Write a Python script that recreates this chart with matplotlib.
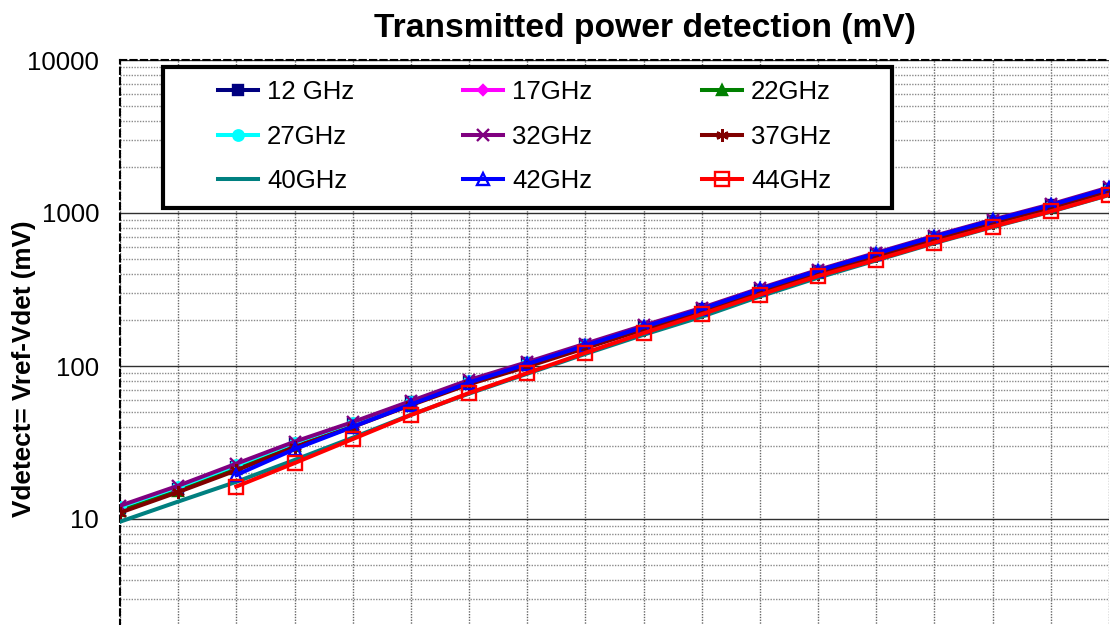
import matplotlib
matplotlib.use("Agg")
import matplotlib.pyplot as plt
from matplotlib.ticker import LogLocator, NullFormatter, FixedLocator, NullLocator, FuncFormatter
from matplotlib.patches import Rectangle

plt.rcParams['font.family'] = ['Liberation Sans', 'DejaVu Sans']

# measurement steps (x axis labels are cut off in the original picture)
steps = list(range(18))

# Vdetect values in mV
v_12 = [11.8, 15.8, 21.8, 31.0, 42.0, 58.0, 79.0, 104, 137, 181, 236, 316, 418, 540, 698, 890, 1120, 1440]
v_17 = [11.6, 15.6, 21.6, 30.6, 41.5, 57.5, 78.5, 103, 136, 180, 235, 315, 416, 538, 695, 887, 1115, 1435]
v_22 = [11.3, 15.3, 21.2, 30.0, 40.5, 56.5, 77.0, 101, 133, 176, 230, 309, 408, 528, 683, 873, 1098, 1405]
v_27 = [12.0, 16.2, 22.5, 31.5, 42.5, 58.5, 80.0, 104, 137, 180, 234, 314, 415, 536, 692, 884, 1110, 1425]
v_32 = [12.2, 16.5, 23.0, 32.0, 43.0, 59.0, 81.0, 106, 140, 184, 240, 322, 425, 550, 710, 905, 1140, 1470]
v_37 = [11.0, 15.0, 20.8, 29.5, 40.0, 55.5, 76.0, 99, 131, 173, 226, 304, 402, 520, 673, 860, 1080, 1385]
v_40 = [9.6, 13.0, 17.5, 24.3, 34.0, 48.0, 66.0, 89, 120, 160, 210, 285, 378, 490, 635, 810, 1020, 1310]
v_42 = [None, None, 19.4, 28.6, 40.0, 56.0, 78.0, 103, 136, 180, 236, 318, 420, 543, 702, 895, 1125, 1450]
v_44 = [None, None, 16.3, 23.2, 33.3, 47.8, 66.6, 90, 122, 164, 218, 292, 387, 495, 640, 815, 1025, 1315]

labels = ['12 GHz', '17GHz', '22GHz', '27GHz', '32GHz', '37GHz', '40GHz', '42GHz', '44GHz']
series = [v_12, v_17, v_22, v_27, v_32, v_37, v_40, v_42, v_44]
colors = ['#000080', '#FF00FF', '#008000', '#00FFFF', '#800080', '#800000', '#008080', '#0000FF', '#FF0000']
markers = ['s', 'D', '^', 'o', 'x', (6, 2, 0), None, '^', 's']
msizes = [6.5, 5.5, 7, 7.5, 9, 9, 0, 9, 10]
faces = [None, None, None, None, None, None, None, 'none', 'none']

fig = plt.figure(figsize=(11.1, 6.25), dpi=100)
# plot area: top at 60 px, left at 120 px; bottom (value 1) falls below the image
ax = fig.add_axes([120 / 1110, -47 / 625, 989 / 1110, 612 / 625])

handles = []
for vals, lab, c, m, ms, fc in zip(series, labels, colors, markers, msizes, faces):
    xs = [s for s, v in zip(steps, vals) if v is not None]
    ys = [v for v in vals if v is not None]
    kw = dict(color=c, lw=2.9, marker=m, markersize=ms, markeredgecolor=c,
              markeredgewidth=1.7, label=lab, zorder=3)
    if fc is not None:
        kw['markerfacecolor'] = fc
    h, = ax.plot(xs, ys, **kw)
    handles.append(h)

ax.set_yscale('log')
ax.set_ylim(1, 10000)
ax.set_xlim(0, 17)

ax.yaxis.set_major_locator(FixedLocator([10, 100, 1000, 10000]))
ax.yaxis.set_major_formatter(FuncFormatter(lambda v, p: '%d' % v))
ax.yaxis.set_minor_locator(LogLocator(base=10, subs=range(2, 10)))
ax.yaxis.set_minor_formatter(NullFormatter())
ax.xaxis.set_major_locator(FixedLocator(steps))
ax.xaxis.set_minor_locator(NullLocator())
ax.set_xticklabels([])
ax.tick_params(axis='both', which='both', length=0)
ax.tick_params(axis='y', labelsize=18.5, pad=15)

ax.grid(True, axis='y', which='major', color='#303030', lw=1.0, ls='-', zorder=1)
ax.grid(True, axis='y', which='minor', color='#8a8a8a', lw=1.0, ls=(0, (1, 1)), zorder=1)
ax.grid(True, axis='x', which='major', color='#666666', lw=1.0, ls=(0, (1, 1)), zorder=1)
ax.set_axisbelow(True)

for side in ['right', 'bottom']:
    ax.spines[side].set_visible(False)
for side in ['top', 'left']:
    ax.spines[side].set_linestyle((0, (3, 2)))
    ax.spines[side].set_linewidth(1.5)
    ax.spines[side].set_color('black')

# legend box with white fill and heavy border
ax.add_patch(Rectangle((43 / 989, (672 - 208) / 612), (892 - 163) / 989, (208 - 67) / 612,
                       transform=ax.transAxes, facecolor='white', edgecolor='black',
                       lw=3, zorder=5, clip_on=False))

# entries run across rows in the original, matplotlib fills columns first
order = [0, 3, 6, 1, 4, 7, 2, 5, 8]
leg = ax.legend([handles[i] for i in order], [labels[i] for i in order], ncol=3,
                loc='upper left', bbox_to_anchor=((218 - 120) / 989, (672 - 80) / 612),
                frameon=False, fontsize=18.5, handlelength=1.56, handletextpad=0.35,
                columnspacing=4.25, labelspacing=0.8, borderpad=0, borderaxespad=0)
leg.set_zorder(6)

fig.text(645 / 1110, 1 - 37 / 625, 'Transmitted power detection (mV)', ha='center',
         va='baseline', fontsize=24.2, fontweight='bold')
fig.text(24 / 1110, 1 - 369 / 625, 'Vdetect= Vref-Vdet (mV)', ha='center', va='center',
         rotation=90, fontsize=18.8, fontweight='bold')

fig.savefig('out.png', dpi=100)
